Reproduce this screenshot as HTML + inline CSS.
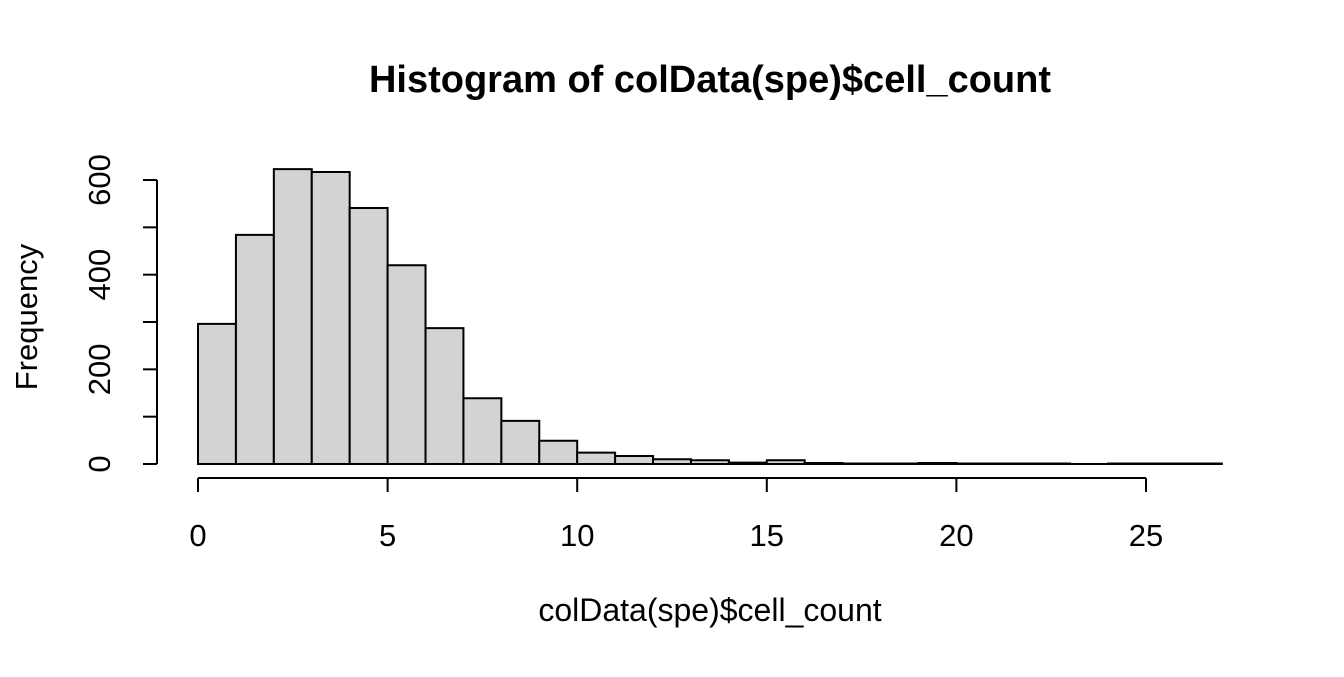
<!DOCTYPE html>
<html><head><meta charset="utf-8"><style>
body{margin:0;background:#fff}
svg text{font-family:"Liberation Sans",Arial,sans-serif;fill:#000}
</style></head><body>
<svg width="1344" height="672" viewBox="0 0 1344 672" xmlns="http://www.w3.org/2000/svg">
<text x="710" y="92" font-size="38" font-weight="bold" text-anchor="middle">Histogram of colData(spe)$cell_count</text>
<text x="710" y="621" font-size="32" text-anchor="middle">colData(spe)$cell_count</text>
<text transform="translate(37,317) rotate(-90)" font-size="31" text-anchor="middle">Frequency</text>
<g id="bars"></g>
<g id="xaxis"></g>
<g id="yaxis"></g>
</svg>
<script>
const binStarts=[0,1,2,3,4,5,6,7,8,9,10,11,12,13,14,15,16,17,18,19,20,21,22,23,24,25,26];
const counts=[296,484,623,617,541,420,287,139,91,49,24,17,10,8,3,8,2,1,1,2,1,1,1,0,1,1,1];
const xTicks=[0,5,10,15,20,25];
const yTicks=[0,200,400,600];
const NS="http://www.w3.org/2000/svg";
const xs=v=>198+v*37.92;
const ys=v=>464-v*0.4733;
const bars=document.getElementById('bars');
binStarts.forEach((b,i)=>{
  const r=document.createElementNS(NS,'path');
  
  
  const x0=xs(b),x1=xs(b+1),y0=ys(0),y1=ys(counts[i]);
  r.setAttribute('d','M'+x0+','+y0+'L'+x0+','+y1+'L'+x1+','+y1+'L'+x1+','+y0+'Z');
  r.setAttribute('fill','#d3d3d3');r.setAttribute('stroke','#000');r.setAttribute('stroke-width','2');
  bars.appendChild(r);
});
const xa=document.getElementById('xaxis');
function ln(p,x1,y1,x2,y2,n){const l=document.createElementNS(NS,'line');
  
  
  l.setAttribute('x1',x1);l.setAttribute('y1',y1);l.setAttribute('x2',x2);l.setAttribute('y2',y2);
  l.setAttribute('stroke','#000');l.setAttribute('stroke-width','2');p.appendChild(l);}
ln(xa,xs(xTicks[0]),478,xs(xTicks[xTicks.length-1]),478,'x-axis-line');
xTicks.forEach(t=>{ln(xa,xs(t),478,xs(t),492,'x-tick');
  const tx=document.createElementNS(NS,'text');
  
  
  tx.setAttribute('x',xs(t));tx.setAttribute('y',546);tx.setAttribute('font-size','31');tx.setAttribute('text-anchor','middle');
  tx.textContent=t;xa.appendChild(tx);});
const ya=document.getElementById('yaxis');
ln(ya,157,ys(yTicks[0]),157,ys(yTicks[yTicks.length-1]),'y-axis-line');
for(let v=0;v<=600;v+=100){ln(ya,143,ys(v),157,ys(v),'y-tick');}
yTicks.forEach(t=>{
  const tx=document.createElementNS(NS,'text');
  
  
  tx.setAttribute('transform','translate(110,'+ys(t)+') rotate(-90)');tx.setAttribute('font-size','31');tx.setAttribute('text-anchor','middle');
  tx.textContent=t;ya.appendChild(tx);});
</script>
</body></html>
